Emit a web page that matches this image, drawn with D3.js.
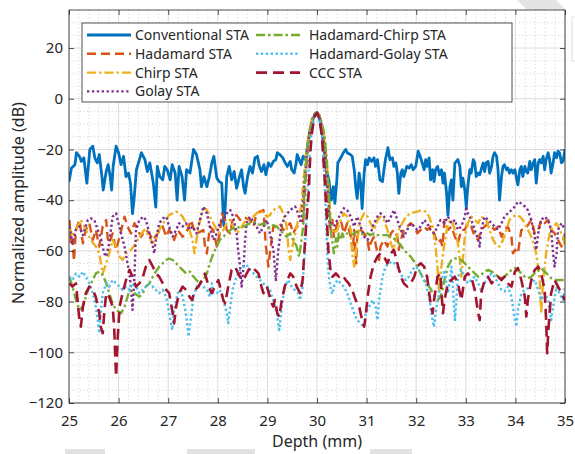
<!DOCTYPE html>
<html>
<head>
<meta charset="utf-8">
<script src="https://cdn.jsdelivr.net/npm/d3@7"></script>
<style>
body{margin:0;background:#fff;}
svg{display:block;font-family:"Noto Sans",sans-serif;}
</style>
</head>
<body>
<svg id="chart" width="575" height="454"></svg>
<script>
var depthTicks = [25,26,27,28,29,30,31,32,33,34,35];
var ampTicks = [-120,-100,-80,-60,-40,-20,0,20];
var seriesNames = ['Conventional STA','Hadamard STA','Chirp STA','Golay STA','Hadamard-Chirp STA','Hadamard-Golay STA','CCC STA'];

// [depth mm, amplitude dB]
var conventional = [[25.00,-32.7],[25.05,-27.3],[25.12,-26],[25.15,-21.3],[25.21,-22.7],[25.25,-24.7],[25.30,-23.3],[25.36,-33.3],[25.42,-20],[25.48,-18.7],[25.52,-23.3],[25.57,-25.3],[25.61,-22],[25.66,-30],[25.69,-36],[25.75,-28.7],[25.79,-26],[25.83,-30.7],[25.86,-36],[25.89,-26.7],[25.95,-18.7],[26.00,-21.3],[26.05,-26],[26.10,-22.7],[26.15,-30.7],[26.20,-29.3],[26.24,-33.3],[26.28,-45.3],[26.31,-40],[26.36,-28],[26.42,-24],[26.46,-21.3],[26.53,-24],[26.58,-28.7],[26.63,-25.3],[26.70,-33.3],[26.75,-42.7],[26.78,-26.7],[26.83,-30.7],[26.89,-32],[26.93,-26.7],[26.98,-28],[27.04,-32],[27.08,-26],[27.14,-29.3],[27.18,-40],[27.22,-26.7],[27.28,-30.7],[27.33,-40],[27.37,-28],[27.44,-29.3],[27.51,-20],[27.57,-22],[27.64,-28],[27.67,-34.7],[27.72,-30.7],[27.78,-34.7],[27.83,-30.7],[27.88,-25.3],[27.92,-22.7],[27.98,-31.3],[28.03,-32.7],[28.08,-33.3],[28.12,-50],[28.15,-42.7],[28.18,-30.7],[28.23,-26.7],[28.28,-32],[28.33,-28.7],[28.38,-35.3],[28.43,-31.3],[28.48,-28],[28.52,-34.7],[28.55,-37.3],[28.60,-30.7],[28.65,-26.7],[28.70,-29.3],[28.75,-23.3],[28.80,-22.7],[28.84,-26.7],[28.88,-28.7],[28.93,-26],[28.97,-30],[29.02,-25.3],[29.07,-26.7],[29.12,-24.7],[29.17,-24],[29.20,-21.3],[29.25,-22],[29.31,-23.3],[29.36,-25.3],[29.40,-26.7],[29.46,-24.7],[29.49,-28],[29.54,-29.3],[29.58,-25.3],[29.60,-22],[29.64,-24],[29.68,-26],[29.72,-22.7],[29.77,-24],[29.82,-17],[29.87,-12],[29.92,-8],[29.96,-6],[30.00,-5.5],[30.04,-7],[30.08,-10.5],[30.12,-16],[30.16,-23],[30.20,-29],[30.24,-32],[30.29,-40],[30.33,-34.7],[30.36,-41.3],[30.40,-32],[30.42,-25.3],[30.48,-23.3],[30.53,-21.3],[30.58,-20],[30.61,-21.3],[30.67,-22],[30.71,-22.7],[30.75,-28],[30.78,-34.7],[30.81,-39.3],[30.85,-29.3],[30.88,-33.3],[30.91,-43.3],[30.95,-29.3],[30.98,-24],[31.02,-26],[31.05,-23.3],[31.10,-24.7],[31.15,-23.3],[31.18,-26.7],[31.22,-24],[31.27,-32],[31.32,-32.7],[31.35,-28],[31.38,-24],[31.43,-19.3],[31.47,-24],[31.52,-23.3],[31.55,-26.7],[31.59,-25.3],[31.62,-29.3],[31.65,-37.3],[31.69,-29.3],[31.72,-28],[31.75,-30.7],[31.81,-26.7],[31.86,-27.3],[31.90,-26],[31.94,-28],[31.99,-26.7],[32.04,-20.7],[32.08,-22.7],[32.12,-25.3],[32.16,-28],[32.19,-24],[32.22,-26.7],[32.26,-23.3],[32.29,-32],[32.33,-28],[32.36,-32.7],[32.39,-28],[32.43,-26.7],[32.47,-30],[32.51,-28],[32.54,-33.3],[32.57,-29.3],[32.61,-36.7],[32.64,-46],[32.68,-34.7],[32.71,-32],[32.74,-40],[32.78,-25.3],[32.81,-24.7],[32.84,-24],[32.88,-26.7],[32.91,-34.7],[32.94,-31.3],[32.98,-36],[33.01,-42.7],[33.04,-34.7],[33.08,-28],[33.11,-29.3],[33.15,-24],[33.18,-25.3],[33.21,-30.7],[33.25,-29.3],[33.28,-30],[33.31,-28],[33.35,-25.3],[33.38,-28.7],[33.41,-25.3],[33.45,-24.7],[33.48,-29.3],[33.52,-26.7],[33.55,-22.7],[33.58,-21.3],[33.62,-22.7],[33.65,-28],[33.68,-40],[33.72,-30.7],[33.75,-26.7],[33.78,-26],[33.82,-28],[33.85,-27.3],[33.88,-29.3],[33.92,-28],[33.95,-29.3],[33.99,-28],[34.02,-31.3],[34.05,-34],[34.09,-28],[34.12,-26.7],[34.15,-30.7],[34.19,-26.7],[34.22,-28.7],[34.25,-29.3],[34.29,-24.7],[34.32,-28],[34.36,-25.3],[34.39,-24],[34.42,-33.3],[34.46,-25.3],[34.49,-24],[34.52,-25.3],[34.56,-22.7],[34.59,-28],[34.62,-24],[34.66,-21.3],[34.69,-24],[34.72,-29.3],[34.76,-25.3],[34.79,-21.3],[34.83,-23.3],[34.86,-20.7],[34.89,-21.3],[34.93,-25.3],[34.96,-24.7],[35.00,-20]];

var hadamard = [[25.01,-47.8],[25.04,-58],[25.07,-55.7],[25.10,-64],[25.14,-51.7],[25.21,-47.8],[25.28,-57],[25.34,-51.7],[25.41,-49.1],[25.48,-55.7],[25.54,-51.7],[25.61,-58.3],[25.68,-50.4],[25.75,-47.8],[25.78,-55],[25.81,-57],[25.88,-53.1],[25.95,-59.6],[26.02,-54.4],[26.12,-46.5],[26.18,-50.4],[26.25,-53.1],[26.32,-49.1],[26.39,-51.7],[26.45,-54.4],[26.55,-51.7],[26.62,-53.1],[26.69,-55.7],[26.79,-53.1],[26.89,-50.4],[26.96,-54.4],[27.02,-51.7],[27.12,-55.7],[27.19,-51.7],[27.29,-54.4],[27.39,-51.7],[27.46,-47.8],[27.51,-51],[27.57,-53.1],[27.64,-52.5],[27.71,-51.8],[27.74,-58],[27.78,-61],[27.84,-50.4],[27.91,-51.8],[27.98,-58.3],[28.04,-53.1],[28.08,-45.2],[28.15,-47.8],[28.18,-51.8],[28.25,-53.1],[28.31,-46.5],[28.38,-45.9],[28.45,-47.8],[28.52,-46.5],[28.58,-47.2],[28.65,-47.8],[28.72,-50.4],[28.78,-45.2],[28.85,-44.5],[28.92,-43.9],[28.97,-58.3],[29.02,-66.2],[29.05,-61],[29.12,-50.4],[29.19,-50.4],[29.25,-49.1],[29.32,-51.8],[29.39,-50.4],[29.46,-49.1],[29.52,-53.1],[29.59,-50.4],[29.66,-50.4],[29.72,-49.1],[29.78,-28],[29.83,-16],[29.90,-9],[29.95,-6],[30.00,-5.5],[30.05,-7],[30.10,-11],[30.15,-18],[30.20,-32],[30.24,-47.8],[30.28,-51.7],[30.31,-47.8],[30.34,-54.4],[30.41,-49.1],[30.48,-47.8],[30.54,-53.1],[30.61,-49.1],[30.68,-54.4],[30.72,-60],[30.75,-51.7],[30.79,-65],[30.81,-54.4],[30.88,-51.7],[30.95,-53.1],[31.02,-55.7],[31.05,-59.6],[31.08,-57],[31.15,-54.4],[31.25,-63.6],[31.28,-58.3],[31.35,-55.7],[31.42,-58.3],[31.49,-53.1],[31.55,-51.7],[31.62,-54.4],[31.65,-59.6],[31.69,-55.7],[31.75,-51.7],[31.82,-50.4],[31.89,-49.1],[31.96,-50.4],[32.02,-53.1],[32.09,-51.7],[32.16,-50.4],[32.22,-51.7],[32.29,-50.4],[32.36,-53.1],[32.43,-57],[32.49,-55.7],[32.53,-58.3],[32.57,-47.8],[32.64,-51.7],[32.71,-50.4],[32.78,-54.4],[32.84,-57],[32.91,-51.7],[32.98,-51.7],[33.04,-49.1],[33.11,-50.4],[33.18,-54.4],[33.25,-55.7],[33.31,-51.7],[33.38,-50.4],[33.45,-49.1],[33.52,-50.4],[33.58,-51.7],[33.65,-50.4],[33.72,-54.4],[33.78,-51.7],[33.85,-50.4],[33.92,-54.4],[33.95,-61],[33.99,-59.6],[34.05,-61],[34.12,-51.7],[34.19,-51.7],[34.32,-47.8],[34.39,-53.1],[34.46,-51.7],[34.52,-47.8],[34.59,-49.1],[34.66,-47.8],[34.72,-51.7],[34.79,-53.1],[34.86,-55.7],[34.93,-58.3],[35.00,-53.1]];

var chirp = [[25.01,-50.4],[25.07,-54.4],[25.14,-51.7],[25.24,-47.8],[25.34,-51.7],[25.44,-55.7],[25.54,-58.3],[25.61,-61],[25.68,-68.9],[25.75,-64.9],[25.81,-61],[25.88,-55.7],[25.95,-58.3],[26.02,-62.3],[26.08,-63.6],[26.15,-61],[26.25,-59.6],[26.35,-57],[26.42,-54.4],[26.52,-51.7],[26.62,-54.4],[26.69,-57],[26.75,-55.7],[26.82,-51.7],[26.89,-49.1],[26.96,-47.8],[27.02,-45.8],[27.09,-45.2],[27.16,-44.5],[27.22,-45.2],[27.29,-46.5],[27.36,-49.1],[27.43,-51.7],[27.49,-55.7],[27.53,-61],[27.57,-55.7],[27.61,-50.4],[27.68,-45.2],[27.72,-43.2],[27.78,-43.9],[27.84,-46.5],[27.91,-49.1],[27.98,-51.8],[28.04,-53.1],[28.11,-51.8],[28.18,-49.1],[28.25,-47.8],[28.31,-50.4],[28.38,-53.1],[28.45,-51.8],[28.52,-49.1],[28.58,-47.8],[28.65,-46.5],[28.72,-46.5],[28.78,-45.2],[28.85,-43.9],[28.92,-45.2],[28.99,-46.5],[29.05,-45.9],[29.12,-43.9],[29.19,-43.2],[29.25,-42.5],[29.32,-45.2],[29.39,-50.4],[29.42,-58.3],[29.46,-63.6],[29.49,-59.6],[29.56,-53.1],[29.62,-47.8],[29.68,-42.5],[29.74,-30],[29.80,-19],[29.85,-12],[29.90,-8],[29.95,-6],[30.00,-5.5],[30.05,-6.5],[30.10,-10],[30.15,-15],[30.20,-26],[30.25,-40],[30.28,-49.1],[30.34,-53.1],[30.41,-51.7],[30.48,-47.8],[30.54,-45.2],[30.61,-46.5],[30.68,-51.7],[30.71,-61],[30.75,-66.2],[30.78,-61],[30.81,-55.7],[30.88,-47.8],[30.95,-45.2],[31.02,-46.5],[31.08,-49.1],[31.15,-51.7],[31.22,-47.8],[31.28,-46.5],[31.35,-47.8],[31.42,-51.7],[31.49,-57],[31.54,-59.6],[31.59,-55.7],[31.65,-51.7],[31.72,-49.1],[31.79,-46.5],[31.89,-45.2],[32.02,-44.5],[32.12,-43.9],[32.19,-44.5],[32.26,-46.5],[32.33,-50.4],[32.39,-58.3],[32.43,-66.2],[32.46,-76.7],[32.49,-68.9],[32.56,-58.3],[32.64,-49.1],[32.71,-47.8],[32.78,-51.7],[32.84,-57],[32.88,-63.6],[32.91,-70.2],[32.94,-63.6],[32.98,-54.4],[33.04,-49.1],[33.11,-46.5],[33.18,-47.8],[33.25,-49.1],[33.31,-46.5],[33.41,-47.8],[33.48,-51.7],[33.55,-55.7],[33.61,-57.6],[33.68,-58.3],[33.75,-55.7],[33.82,-51.7],[33.88,-47.8],[33.95,-46.5],[34.02,-45.8],[34.09,-46.5],[34.15,-47.8],[34.22,-50.4],[34.32,-54.4],[34.42,-61],[34.49,-71.5],[34.52,-84.6],[34.56,-71.5],[34.62,-61],[34.69,-53.1],[34.76,-50.4],[34.83,-49.1],[34.89,-51.7],[34.96,-54.4],[35.00,-58.3]];

var golay = [[25.01,-50.4],[25.07,-57],[25.14,-51.7],[25.21,-50.4],[25.28,-53.8],[25.38,-47.8],[25.44,-47.2],[25.51,-47.8],[25.58,-51.7],[25.65,-55.7],[25.71,-61],[25.75,-62.3],[25.81,-57],[25.88,-46.5],[25.95,-45.2],[25.98,-47.8],[26.05,-53.1],[26.12,-58.3],[26.18,-64.9],[26.22,-68.9],[26.25,-75],[26.28,-83.3],[26.32,-70],[26.35,-51.7],[26.42,-47.8],[26.50,-46.5],[26.55,-47.8],[26.62,-53.1],[26.69,-58.3],[26.72,-61],[26.75,-55.7],[26.82,-49.1],[26.89,-47.2],[26.96,-46.5],[27.02,-50.4],[27.09,-54.4],[27.16,-51.7],[27.22,-49.1],[27.29,-50.4],[27.36,-49.1],[27.43,-51.7],[27.49,-50.4],[27.57,-53.1],[27.64,-47.8],[27.71,-42.5],[27.78,-45.2],[27.84,-50.4],[27.91,-55.7],[27.98,-53.1],[28.04,-49.1],[28.11,-47.8],[28.18,-45.2],[28.25,-43.9],[28.31,-46.5],[28.38,-53.1],[28.41,-59.6],[28.45,-66.2],[28.48,-74.1],[28.52,-66.2],[28.55,-55.7],[28.58,-49.1],[28.65,-46.5],[28.72,-48.5],[28.78,-50.4],[28.85,-53.1],[28.92,-50.4],[28.99,-47.8],[29.05,-53.1],[29.12,-59.6],[29.17,-71.5],[29.22,-59.6],[29.28,-50.4],[29.35,-46.5],[29.46,-43.9],[29.56,-42.5],[29.62,-45.2],[29.68,-49.1],[29.74,-35],[29.80,-21],[29.85,-13],[29.90,-8.5],[29.95,-6],[30.00,-5.5],[30.05,-7],[30.10,-11],[30.15,-18],[30.20,-30],[30.23,-40],[30.26,-50.4],[30.28,-49.1],[30.34,-50.4],[30.41,-47.8],[30.48,-45.2],[30.54,-43.2],[30.61,-43.9],[30.68,-46.5],[30.75,-50.4],[30.81,-46.5],[30.88,-50.4],[30.95,-54.4],[31.02,-55.7],[31.08,-53.1],[31.15,-49.1],[31.22,-46.5],[31.28,-45.2],[31.35,-46.5],[31.42,-49.1],[31.49,-46.5],[31.55,-43.9],[31.62,-47.8],[31.69,-51.7],[31.75,-54.4],[31.82,-51.7],[31.89,-49.1],[31.96,-50.4],[32.02,-51.7],[32.09,-50.4],[32.16,-47.8],[32.22,-49.1],[32.29,-51.7],[32.36,-53.1],[32.43,-50.4],[32.49,-47.8],[32.57,-49.1],[32.64,-46.5],[32.71,-49.1],[32.78,-47.8],[32.84,-51.7],[32.91,-50.4],[32.98,-46.5],[33.01,-42.5],[33.04,-45.2],[33.11,-47.8],[33.18,-51.7],[33.25,-55.7],[33.28,-58.3],[33.31,-51.7],[33.38,-46.5],[33.45,-47.8],[33.52,-49.1],[33.58,-50.4],[33.65,-51.7],[33.72,-49.1],[33.78,-46.5],[33.85,-45.2],[33.92,-43.9],[33.99,-42.5],[34.05,-40.6],[34.12,-41.3],[34.19,-42.5],[34.25,-43.9],[34.32,-47.8],[34.39,-54.4],[34.42,-59.6],[34.46,-53.1],[34.52,-47.8],[34.59,-46.5],[34.66,-47.8],[34.72,-51.7],[34.76,-61],[34.79,-66.2],[34.83,-61],[34.86,-51.7],[34.93,-49.1],[35.00,-51.7]];

var hadamardChirp = [[25.01,-70.2],[25.07,-74.1],[25.14,-79.4],[25.21,-83.3],[25.28,-82],[25.34,-78.1],[25.41,-74.1],[25.48,-71.5],[25.54,-68.9],[25.61,-68.2],[25.68,-69.5],[25.75,-72.8],[25.81,-76.7],[25.88,-80.7],[25.95,-83.3],[26.05,-84.6],[26.12,-82],[26.18,-78.1],[26.22,-75.4],[26.32,-76.7],[26.42,-78.1],[26.49,-76.7],[26.55,-74.1],[26.62,-72.8],[26.69,-70.2],[26.75,-68.2],[26.82,-66.2],[26.89,-64.9],[26.96,-63.6],[27.02,-63],[27.09,-63.6],[27.16,-64.9],[27.22,-66.2],[27.29,-67.5],[27.36,-68.9],[27.44,-68.2],[27.51,-70.2],[27.57,-71.5],[27.64,-72.8],[27.71,-71.5],[27.78,-68.9],[27.84,-64.9],[27.91,-61],[27.98,-58.3],[28.04,-55.7],[28.11,-54.4],[28.18,-53.1],[28.25,-51.8],[28.31,-51.1],[28.38,-50.4],[28.45,-51.1],[28.52,-50.4],[28.58,-49.8],[28.65,-49.1],[28.72,-48.5],[28.78,-49.1],[28.85,-49.8],[28.92,-49.1],[28.99,-50.4],[29.05,-51.1],[29.12,-49.8],[29.19,-50.4],[29.25,-51.8],[29.32,-53.1],[29.39,-54.4],[29.46,-53.1],[29.52,-55.7],[29.59,-58.3],[29.64,-62.3],[29.68,-57],[29.72,-50.4],[29.76,-30],[29.80,-20],[29.85,-13],[29.90,-8],[29.95,-6],[30.00,-5.5],[30.05,-6.5],[30.10,-10],[30.15,-14],[30.20,-25],[30.25,-42],[30.28,-53.1],[30.31,-56.4],[30.34,-61],[30.37,-57.7],[30.38,-55],[30.41,-58.3],[30.44,-53.1],[30.48,-55.7],[30.51,-53.1],[30.54,-54.4],[30.61,-53.1],[30.68,-53.8],[30.75,-53.1],[30.81,-52.4],[30.88,-53.1],[30.95,-53.8],[31.02,-53.1],[31.08,-53.8],[31.15,-53.1],[31.22,-53.8],[31.28,-53.8],[31.35,-53.8],[31.42,-53.8],[31.49,-54.4],[31.55,-55.1],[31.62,-56.4],[31.69,-57.7],[31.75,-59.6],[31.82,-61],[31.89,-62.3],[31.96,-64.2],[32.02,-66.2],[32.09,-68.9],[32.16,-71.5],[32.22,-73],[32.29,-75],[32.36,-77.5],[32.44,-79.4],[32.51,-77],[32.57,-71.5],[32.64,-66.2],[32.71,-63.6],[32.78,-63],[32.84,-63],[32.91,-63.6],[32.98,-64.9],[33.04,-66.2],[33.11,-67.5],[33.18,-68.9],[33.25,-70.2],[33.31,-69.5],[33.38,-68.2],[33.45,-67.5],[33.52,-68.2],[33.58,-68.9],[33.65,-70.2],[33.72,-70.8],[33.78,-70.2],[33.85,-68.9],[33.92,-67.5],[33.99,-66.8],[34.05,-67.5],[34.12,-68.9],[34.19,-70.2],[34.25,-70.8],[34.32,-70.2],[34.39,-68.9],[34.46,-67.5],[34.52,-66.8],[34.59,-68.2],[34.66,-69.5],[34.72,-70.8],[34.79,-71.5],[34.86,-71.5],[34.93,-71.5],[35.00,-71.5]];

var hadamardGolay = [[25.01,-70.2],[25.07,-71.5],[25.14,-68.9],[25.21,-70.2],[25.28,-68.2],[25.34,-70.2],[25.41,-72.8],[25.48,-76.7],[25.54,-82],[25.58,-87.3],[25.61,-92.5],[25.64,-84.6],[25.68,-76.7],[25.75,-72.8],[25.81,-74.1],[25.88,-71.5],[25.95,-72.8],[26.02,-74.1],[26.08,-75.4],[26.15,-74.1],[26.22,-75.4],[26.28,-72.8],[26.35,-74.1],[26.42,-76.7],[26.49,-75.4],[26.55,-74.1],[26.62,-72.8],[26.69,-74.1],[26.75,-75.4],[26.82,-76.7],[26.89,-75.4],[26.96,-78.1],[27.02,-84.6],[27.08,-91.2],[27.12,-83.3],[27.19,-76.7],[27.26,-75.4],[27.31,-80],[27.36,-85],[27.41,-93.8],[27.46,-86],[27.51,-78.1],[27.57,-74.1],[27.64,-72.8],[27.71,-74.1],[27.78,-75.4],[27.84,-78.1],[27.88,-72.8],[27.91,-76.7],[27.98,-76.7],[28.04,-75.4],[28.11,-79.4],[28.18,-84.6],[28.21,-88.6],[28.25,-82],[28.31,-74.1],[28.38,-70.2],[28.45,-67.5],[28.52,-66.2],[28.58,-65.5],[28.65,-67.5],[28.72,-68.9],[28.78,-70.2],[28.85,-71.5],[28.92,-72.8],[28.99,-74.1],[29.05,-75.4],[29.12,-79.4],[29.19,-84.6],[29.24,-91.2],[29.29,-82],[29.35,-74.1],[29.42,-71.5],[29.49,-74.1],[29.55,-75.4],[29.62,-76.7],[29.66,-79.4],[29.71,-74.1],[29.76,-58],[29.80,-40],[29.85,-22],[29.90,-12],[29.95,-7],[30.00,-5.5],[30.05,-8],[30.10,-15],[30.15,-30],[30.18,-47],[30.21,-62],[30.24,-70.2],[30.28,-75.4],[30.31,-77],[30.34,-74.1],[30.41,-71.5],[30.48,-72.8],[30.54,-74.1],[30.61,-76.7],[30.68,-80.7],[30.75,-84.6],[30.81,-87.3],[30.88,-88.6],[30.95,-89.9],[30.98,-84.6],[31.05,-82],[31.12,-79.4],[31.18,-82],[31.22,-87.3],[31.25,-79.4],[31.32,-70.2],[31.38,-66.2],[31.45,-64.9],[31.52,-64.2],[31.59,-65.5],[31.65,-67.5],[31.72,-70.2],[31.79,-71.5],[31.85,-70.2],[31.92,-67.5],[31.99,-66.2],[32.06,-67.5],[32.12,-70.2],[32.19,-72.8],[32.26,-78.1],[32.33,-87.3],[32.36,-90],[32.39,-84.6],[32.46,-76.7],[32.53,-70.2],[32.57,-67.5],[32.61,-72.8],[32.64,-76.7],[32.68,-71.5],[32.71,-66.2],[32.74,-74.1],[32.78,-87.3],[32.81,-79.4],[32.84,-70.2],[32.91,-67.5],[32.98,-70.2],[33.04,-72.8],[33.11,-71.5],[33.18,-70.2],[33.25,-72.8],[33.31,-75.4],[33.38,-72.8],[33.45,-70.2],[33.52,-68.9],[33.58,-70.2],[33.65,-72.8],[33.72,-75.4],[33.78,-76],[33.85,-74.1],[33.92,-78.1],[33.99,-87.3],[34.02,-89.9],[34.05,-83.3],[34.12,-76.7],[34.19,-75.4],[34.25,-74.8],[34.32,-72.8],[34.39,-71.5],[34.46,-75.4],[34.52,-79.4],[34.59,-76.7],[34.66,-79.4],[34.72,-87.3],[34.76,-82],[34.83,-74.1],[34.89,-76.7],[34.96,-79.4],[35.00,-74.1]];

var ccc = [[25.01,-72.8],[25.07,-74.1],[25.14,-72.8],[25.21,-87.3],[25.24,-89.9],[25.28,-82],[25.34,-76.7],[25.41,-74.1],[25.48,-75.4],[25.54,-78.1],[25.61,-84.6],[25.64,-89.9],[25.68,-92.5],[25.71,-84.6],[25.75,-76.7],[25.81,-78.1],[25.88,-82],[25.91,-89.9],[25.93,-100.4],[25.95,-109.6],[25.98,-95],[26.02,-82],[26.08,-76.7],[26.15,-71.5],[26.22,-67.5],[26.28,-70.2],[26.35,-74.1],[26.42,-72.8],[26.49,-70.2],[26.55,-66.2],[26.62,-63.6],[26.69,-66.2],[26.75,-68.9],[26.82,-70.2],[26.89,-72.8],[26.96,-75.4],[27.02,-76.7],[27.09,-84.6],[27.12,-88.6],[27.16,-82],[27.22,-76.7],[27.29,-74.1],[27.36,-75.4],[27.43,-78.1],[27.48,-79.4],[27.54,-75.4],[27.61,-74.1],[27.68,-71.5],[27.74,-69],[27.78,-71.5],[27.81,-74.1],[27.88,-76.7],[27.94,-74.1],[28.01,-71.5],[28.08,-76.7],[28.11,-79.4],[28.15,-80.7],[28.21,-74.1],[28.28,-67.5],[28.35,-66.2],[28.41,-68.9],[28.48,-71.5],[28.55,-70.2],[28.62,-67.5],[28.68,-66.2],[28.75,-67.5],[28.82,-68.9],[28.88,-74.1],[28.92,-76.7],[28.99,-74.1],[29.05,-78.1],[29.09,-80.7],[29.12,-82],[29.15,-79.4],[29.20,-84.6],[29.24,-86],[29.29,-79.4],[29.35,-74.1],[29.46,-68.9],[29.52,-70.2],[29.59,-74.1],[29.66,-76.7],[29.71,-71.5],[29.74,-62],[29.78,-50],[29.83,-38],[29.87,-20],[29.90,-13],[29.95,-7],[30.00,-5.5],[30.05,-8],[30.10,-15],[30.15,-30],[30.20,-48],[30.23,-60],[30.28,-68.9],[30.31,-70.2],[30.38,-68.9],[30.44,-70.2],[30.51,-69.5],[30.58,-71.5],[30.64,-72.8],[30.71,-75.4],[30.78,-79.4],[30.85,-82],[30.91,-87.3],[30.95,-89.9],[30.98,-85.9],[31.02,-78.1],[31.08,-70.2],[31.15,-64.9],[31.22,-62.3],[31.28,-61],[31.35,-62.3],[31.42,-64.9],[31.49,-61],[31.55,-59.6],[31.62,-64.9],[31.69,-70.2],[31.75,-72.8],[31.82,-74.1],[31.89,-72.8],[31.96,-70.2],[32.02,-66.2],[32.09,-64.9],[32.16,-66.2],[32.22,-70.2],[32.29,-80.7],[32.33,-84.6],[32.36,-79.4],[32.43,-70.2],[32.49,-68.9],[32.51,-76.7],[32.54,-84.6],[32.57,-79.4],[32.64,-72.8],[32.71,-71.5],[32.78,-70.2],[32.84,-72.8],[32.91,-79.4],[32.98,-70.2],[33.04,-68.9],[33.11,-70.2],[33.18,-75.4],[33.25,-84.6],[33.28,-87.3],[33.31,-76.7],[33.38,-71.5],[33.45,-70.2],[33.52,-72.8],[33.58,-71.5],[33.65,-70.2],[33.72,-71.5],[33.78,-70.2],[33.85,-72.8],[33.92,-74.1],[33.99,-68.2],[34.05,-66.8],[34.12,-71.5],[34.19,-78.1],[34.22,-85.9],[34.25,-79.4],[34.32,-71.5],[34.39,-67.5],[34.46,-66.2],[34.52,-68.9],[34.59,-75.4],[34.62,-87.3],[34.64,-100.4],[34.67,-89.9],[34.72,-76.7],[34.79,-71.5],[34.86,-74.1],[34.93,-76.7],[35.00,-79.4]];

var allSeries = [conventional, hadamard, chirp, golay, hadamardChirp, hadamardGolay, ccc];
var colors = ['#0072BD','#D95319','#EDB120','#7E2F8E','#77AC30','#4DBEEE','#A2142F'];
var dashes = [null,'9,5','9,3,2.5,3','2.3,2.6','9,3,2.5,3','2.3,2.6','11,6'];
var widths = [2.8,2.4,2.4,2.4,2.4,2.4,2.6];

var svg = d3.select('#chart');
var L = 69, T = 10, R = 565, B = 403;

var x = d3.scaleLinear().domain([25,35]).range([L,R]);
var y = d3.scaleLinear().domain([-120,35]).range([B,T]);

// faint page marks around the figure
svg.append('path').attr('d','M517,0 L556,0 L566,10 L527,10 Z').attr('fill','#e4e4e4');
svg.append('rect').attr('x',572).attr('y',17).attr('width',6).attr('height',44).attr('fill','none').attr('stroke','#dddddd');
[[65,40],[187,68],[370,42]].forEach(function(b){
  svg.append('rect').attr('x',b[0]).attr('y',449).attr('width',b[1]).attr('height',5).attr('fill','#e2e2e2');
});

svg.append('rect').attr('x',L).attr('y',T).attr('width',R-L).attr('height',B-T).attr('fill','#fff');

// minor grid
var g = svg.append('g');
d3.range(25.2,35,0.2).forEach(function(v){
  if(Math.abs(v-Math.round(v))<0.01) return;
  g.append('line').attr('x1',x(v)).attr('x2',x(v)).attr('y1',T).attr('y2',B)
    .attr('stroke','#c4c4c4').attr('stroke-width',0.8).attr('stroke-dasharray','1,2.6');
});
d3.range(-115,35,5).forEach(function(v){
  if(v%20===0) return;
  g.append('line').attr('x1',L).attr('x2',R).attr('y1',y(v)).attr('y2',y(v))
    .attr('stroke','#c4c4c4').attr('stroke-width',0.8).attr('stroke-dasharray','1,2.6');
});
// major grid
depthTicks.forEach(function(v){
  g.append('line').attr('x1',x(v)).attr('x2',x(v)).attr('y1',T).attr('y2',B)
    .attr('stroke','#dcdcdc').attr('stroke-width',1);
});
ampTicks.forEach(function(v){
  g.append('line').attr('x1',L).attr('x2',R).attr('y1',y(v)).attr('y2',y(v))
    .attr('stroke','#dcdcdc').attr('stroke-width',1);
});

svg.append('clipPath').attr('id','clip').append('rect')
  .attr('x',L).attr('y',T).attr('width',R-L).attr('height',B-T);

var line = d3.line().x(function(d){ return x(d[0]); }).y(function(d){ return y(d[1]); });

var lines = svg.append('g').attr('clip-path','url(#clip)');
allSeries.forEach(function(s,i){
  lines.append('path').datum(s)
    .attr('d',line)
    .attr('fill','none')
    .attr('stroke',colors[i])
    .attr('stroke-width',widths[i])
    .attr('stroke-linejoin','round')
    .attr('stroke-dasharray',dashes[i]);
});

// axes
var fs = '15px';
var xAxis = svg.append('g').attr('transform','translate(0,'+B+')')
  .call(d3.axisBottom(x).tickValues(depthTicks).tickSizeInner(-5).tickSizeOuter(0).tickPadding(12));
var xTop = svg.append('g').attr('transform','translate(0,'+T+')')
  .call(d3.axisTop(x).tickValues(depthTicks).tickSizeInner(-5).tickSizeOuter(0).tickFormat(''));
var yAxis = svg.append('g').attr('transform','translate('+L+',0)')
  .call(d3.axisLeft(y).tickValues(ampTicks).tickSizeInner(-5).tickSizeOuter(0).tickPadding(6));
var yRight = svg.append('g').attr('transform','translate('+R+',0)')
  .call(d3.axisRight(y).tickValues(ampTicks).tickSizeInner(-5).tickSizeOuter(0).tickFormat(''));
[xAxis,xTop,yAxis,yRight].forEach(function(a){
  a.select('.domain').remove();
  a.selectAll('line').attr('stroke','#262626').attr('stroke-width',0.8);
  a.selectAll('text').attr('fill','#262626').style('font-size',fs).style('font-family','"Noto Sans",sans-serif');
});

svg.append('rect').attr('x',L).attr('y',T).attr('width',R-L).attr('height',B-T)
  .attr('fill','none').attr('stroke','#262626').attr('stroke-width',0.8);

svg.append('text').attr('x',(L+R)/2).attr('y',447).attr('text-anchor','middle')
  .attr('fill','#262626').style('font-size','16px').text('Depth (mm)');
svg.append('text').attr('transform','translate(24,203) rotate(-90)')
  .attr('text-anchor','middle').attr('fill','#262626').style('font-size','16px')
  .text('Normalized amplitude (dB)');

// legend
var lg = svg.append('g');
lg.append('rect').attr('x',82).attr('y',23).attr('width',430).attr('height',79)
  .attr('fill','#fff').attr('stroke','#262626').attr('stroke-width',0.8);
seriesNames.forEach(function(name,i){
  var col = i<4 ? 0 : 1;
  var row = i<4 ? i : i-4;
  var lx = col===0 ? 87 : 256;
  var ly = 35 + row*18.8;
  lg.append('line').attr('x1',lx).attr('x2',lx+44).attr('y1',ly).attr('y2',ly)
    .attr('stroke',colors[i]).attr('stroke-width',widths[i]).attr('stroke-dasharray',dashes[i]);
  lg.append('text').attr('x',lx+(col===0?48:53)).attr('y',ly).attr('dy','0.35em')
    .attr('fill','#262626').style('font-size','14px').text(name);
});
</script>
</body>
</html>
